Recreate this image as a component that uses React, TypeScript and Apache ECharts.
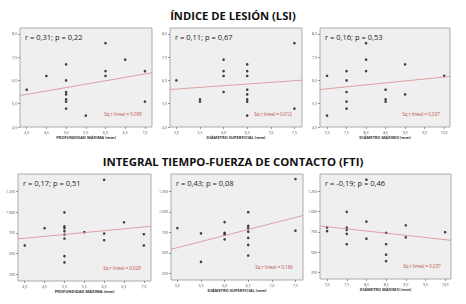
import React, { useEffect, useRef } from "react";
import * as echarts from "echarts";

// ---- Data ----
const titleTop = "ÍNDICE DE LESIÓN (LSI)";
const titleBottom = "INTEGRAL TIEMPO-FUERZA DE CONTACTO (FTI)";

const xNames = ["PROFUNDIDAD MÁXIMA (mm)", "DIÁMETRO SUPERFICIAL (mm)", "DIÁMETRO MÁXIMO (mm)"];
const xTicksProf = [4, 4.5, 5, 5.5, 6, 6.5, 7];
const xTicksSup = [5, 5.5, 6, 6.5, 7, 7.5];
const xTicksMax = [7, 7.5, 8, 8.5, 9, 9.5, 10];
const xRanges = [
  [3.83, 7.18],
  [4.865, 7.66],
  [6.82, 10.15],
];
const yTicksLSI = [4, 5, 6, 7, 8];
const yTicksFTI = [250, 500, 750, 1000, 1250];

const lsiProf: number[][] = [
  [4.0, 5.6], [4.5, 6.19], [5.0, 6.69], [5.0, 6.0], [5.0, 5.5], [5.0, 5.4], [5.0, 5.19], [5.0, 5.09],
  [5.0, 4.79], [5.5, 4.49], [6.0, 7.6], [6.0, 6.4], [6.0, 6.19], [6.5, 6.89], [7.0, 6.4], [7.0, 5.09],
];
const lsiSup: number[][] = [
  [5.0, 6.0], [5.5, 5.19], [5.5, 5.09], [6.0, 6.89], [6.0, 6.4], [6.0, 6.19], [6.0, 5.5], [6.5, 6.69],
  [6.5, 6.4], [6.5, 6.19], [6.5, 5.6], [6.5, 5.4], [6.5, 5.19], [6.5, 5.09], [6.5, 4.49], [7.5, 7.6], [7.5, 4.79],
];
const lsiMax: number[][] = [
  [7.0, 6.2], [7.0, 4.49], [7.5, 6.4], [7.5, 6.0], [7.5, 5.5], [7.5, 5.09], [7.5, 4.79], [8.0, 7.6],
  [8.0, 6.89], [8.0, 6.4], [8.5, 5.6], [8.5, 5.19], [8.5, 5.09], [9.0, 6.69], [9.0, 5.4], [10.0, 6.2],
];
const ftiProf: number[][] = [
  [4.0, 598], [4.5, 806], [5.0, 998], [5.0, 830], [5.0, 806], [5.0, 770], [5.0, 730], [5.0, 682],
  [5.0, 470], [5.0, 394], [5.5, 758], [6.0, 1390], [6.0, 742], [6.0, 662], [6.5, 878], [7.0, 734], [7.0, 598],
];
const ftiSup: number[][] = [
  [5.0, 802], [5.5, 738], [5.5, 390], [6.0, 875], [6.0, 745], [6.0, 725], [6.0, 665], [6.5, 995],
  [6.5, 830], [6.5, 802], [6.5, 758], [6.5, 682], [6.5, 597], [6.5, 468], [7.5, 1399], [7.5, 770],
];
const ftiMax: number[][] = [
  [7.0, 802], [7.0, 758], [7.5, 995], [7.5, 802], [7.5, 774], [7.5, 725], [7.5, 597], [8.0, 1390],
  [8.0, 875], [8.0, 665], [8.5, 738], [8.5, 597], [8.5, 468], [8.5, 390], [9.0, 830], [9.0, 682], [10.0, 745],
];

// regression line endpoints (y at left edge, y at right edge)
const fitLSI = [[5.35, 6.33], [5.61, 6.01], [5.61, 6.17]];
const fitFTI = [[678, 830], [544, 955], [822, 645]];

const rTexts = [
  "r = 0,31; p = 0,22", "r = 0,11; p = 0,67", "r = 0,16; p = 0,53",
  "r = 0,17; p = 0,51", "r = 0,43; p = 0,08", "r = -0,19; p = 0,46",
];
const r2Texts = [
  "Sq r lineal = 0,099", "Sq r lineal = 0,012", "Sq r lineal = 0,027",
  "Sq r lineal = 0,029", "Sq r lineal = 0,186", "Sq r lineal = 0,037",
];

// ---- Layout ----
const grids = [
  { left: 20, top: 28, width: 132, height: 99 },
  { left: 170, top: 28, width: 132, height: 99 },
  { left: 320, top: 28, width: 130, height: 99 },
  { left: 18, top: 174, width: 133, height: 107 },
  { left: 171, top: 174, width: 132, height: 106 },
  { left: 320, top: 174, width: 131, height: 105 },
];

const fmtDec = (v: number) => v.toFixed(1).replace(".", ",");
const fmtThousand = (v: number) => (v >= 1000 ? Math.floor(v / 1000) + "." + String(v % 1000).padStart(3, "0") : String(v));

export default function App() {
  const ref = useRef<HTMLDivElement>(null);
  useEffect(() => {
    if (!ref.current) return;
    const chart = echarts.init(ref.current, null, { renderer: "svg" });
    const font = "'Open Sans', sans-serif";
    const scatterData = [lsiProf, lsiSup, lsiMax, ftiProf, ftiSup, ftiMax];
    const xTicks = [xTicksProf, xTicksSup, xTicksMax];
    const xAxis: any[] = [];
    const yAxis: any[] = [];
    const series: any[] = [];
    const graphic: any[] = [];
    for (let i = 0; i < 6; i++) {
      const col = i % 3;
      const isTop = i < 3;
      const [xmin, xmax] = xRanges[col];
      xAxis.push({
        gridIndex: i,
        type: "value",
        min: xmin,
        max: xmax,
        name: xNames[col],
        nameLocation: "middle",
        nameGap: 8,
        nameTextStyle: { fontSize: 4, color: "#333", fontFamily: font, fontWeight: "bold" },
        axisLine: { show: false },
        axisTick: { show: true, length: 2, lineStyle: { color: "#555", width: 0.6 }, customValues: xTicks[col] },
        axisLabel: { fontSize: 3.5, color: "#444", margin: 3, fontFamily: font, customValues: xTicks[col], formatter: (v: number) => fmtDec(v) },
        splitLine: { show: false },
      });
      const yt = isTop ? yTicksLSI : yTicksFTI;
      yAxis.push({
        gridIndex: i,
        type: "value",
        min: isTop ? 4 : 170,
        max: isTop ? 8.25 : 1460,
        axisLine: { show: false },
        axisTick: { show: true, length: 2, lineStyle: { color: "#555", width: 0.6 }, customValues: yt },
        axisLabel: {
          fontSize: 3.5, color: "#444", margin: 3, fontFamily: font, customValues: yt,
          formatter: (v: number) => (isTop ? fmtDec(v) : fmtThousand(v)),
        },
        splitLine: { show: false },
      });
      series.push({
        type: "scatter",
        xAxisIndex: i,
        yAxisIndex: i,
        data: scatterData[i],
        symbolSize: 2.6,
        itemStyle: { color: "#111" },
      });
      const fit = isTop ? fitLSI[col] : fitFTI[col];
      series.push({
        type: "line",
        xAxisIndex: i,
        yAxisIndex: i,
        data: [[xmin, fit[0]], [xmax, fit[1]]],
        symbol: "none",
        lineStyle: { color: "#d98a90", width: 0.8 },
      });
      const g = grids[i];
      graphic.push({
        type: "text",
        left: g.left + 5,
        top: g.top + 5,
        style: { text: rTexts[i], fontSize: 7.5, fill: "#222", fontFamily: font },
      });
      graphic.push({
        type: "text",
        right: 466 - (g.left + g.width - 10),
        top: g.top + g.height - 16,
        style: { text: r2Texts[i], fontSize: 4.6, fill: "#c0504d", fontFamily: font },
      });
    }
    graphic.push({
      type: "text",
      left: "center",
      top: 10,
      style: { text: titleTop, fontSize: 11.2, fontWeight: "bold", fill: "#111", fontFamily: font },
    });
    graphic.push({
      type: "text",
      left: "center",
      top: 156,
      style: { text: titleBottom, fontSize: 11.4, fontWeight: "bold", fill: "#111", fontFamily: font },
    });
    chart.setOption({
      animation: false,
      backgroundColor: "#ffffff",
      grid: grids.map((g) => ({ ...g, show: true, backgroundColor: "#efefef", borderColor: "#9a9a9a", borderWidth: 0.8 })),
      xAxis,
      yAxis,
      series,
      graphic,
    });
    return () => chart.dispose();
  }, []);
  return <div ref={ref} style={{ position: "fixed", left: 0, top: 0, width: 466, height: 304 }} />;
}
